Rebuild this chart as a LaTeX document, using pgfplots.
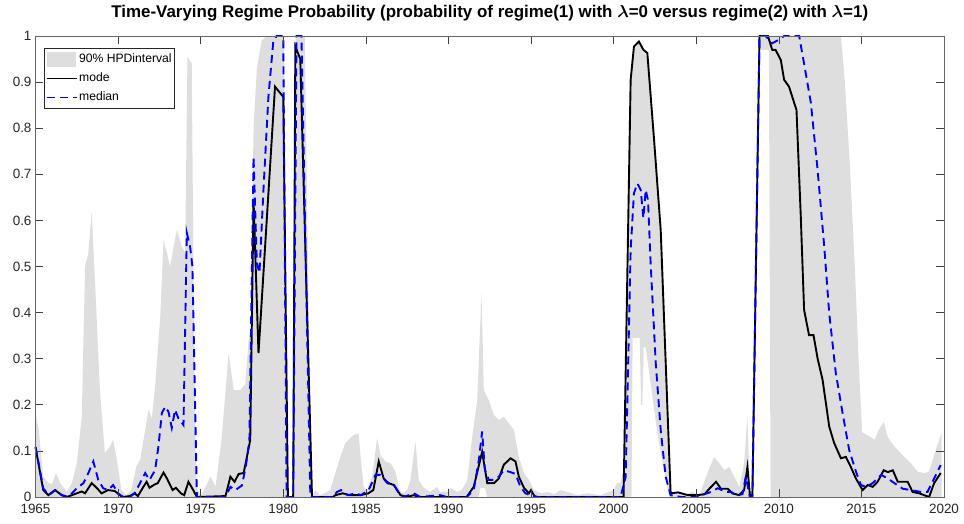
\documentclass[border=0pt]{standalone}
\usepackage{fontspec}
\setmainfont{Liberation Sans}
\usepackage{pgfplots}
\pgfplotsset{compat=1.18}
\definecolor{hpd}{RGB}{222,222,222}
\definecolor{axc}{RGB}{38,38,38}
\pgfplotsset{
  mylineleg/.style={legend image code/.code={\draw[##1, line width=1.9bp] (0bp,0bp) -- (30bp,0bp);}},
  myarealeg/.style={legend image code/.code={\fill[hpd] (0bp,-7.5bp) rectangle (29bp,7.5bp);}},
}
\begin{document}
\begin{tikzpicture}
\path[use as bounding box] (0bp,0bp) rectangle (964bp,524bp);
\begin{axis}[
  at={(35.5bp,27bp)}, anchor=south west,
  scale only axis, width=908.5bp, height=461bp,
  xmin=1965, xmax=2020, ymin=0, ymax=1,
  xtick={1965,1970,1975,1980,1985,1990,1995,2000,2005,2010,2015,2020},
  ytick={0,0.1,0.2,0.3,0.4,0.5,0.6,0.7,0.8,0.9,1},
  scaled ticks=false,
  axis on top=true,
  clip=false,
  axis line style={draw=black!60, line width=0.6bp},
  tick style={draw=black!75, line width=0.6bp},
  major tick length=8bp,
  tick align=inside,
  ticklabel style={font=\fontsize{13.5}{15}\selectfont, text=axc},
  /pgf/number format/assume math mode=true,
  xticklabel style={/pgf/number format/1000 sep={}, yshift=-4bp},
  yticklabel style={/pgf/number format/fixed, xshift=-0.5bp},
  title={Time-Varying Regime Probability (probability of regime(1) with $\lambda$=0 versus regime(2) with $\lambda$=1)},
  title style={at={(0.5,1)}, anchor=base, yshift=12.5bp, font=\bfseries\boldmath\fontsize{17}{19}\selectfont},
  legend cell align=left,
  legend style={at={(0,1)}, anchor=north west, xshift=8.5bp, yshift=-12.3bp,
    draw=axc, line width=0.5bp, fill=white, font=\fontsize{12.2}{14}\selectfont,
    inner sep=1.5bp, row sep=0bp,
    nodes={inner ysep=3.5bp, inner xsep=1.5bp, text height=9bp, text depth=3bp}},
]
% 90% HPD band: upper bound (forward), then lower bound (backward)
\addplot[fill=hpd, draw=none, area legend, myarealeg] table {
x y
1965.00 0.182
1965.20 0.145
1965.47 0.044
1965.80 0.030
1966.00 0.028
1966.24 0.052
1966.50 0.030
1966.90 0.011
1967.20 0.030
1967.50 0.073
1967.80 0.174
1968.00 0.500
1968.20 0.529
1968.40 0.619
1968.60 0.470
1968.90 0.232
1969.20 0.095
1969.50 0.109
1969.70 0.124
1969.96 0.073
1970.20 0.015
1970.50 0.004
1970.80 0.015
1971.10 0.066
1971.33 0.080
1971.64 0.145
1971.84 0.189
1972.04 0.170
1972.24 0.240
1972.55 0.390
1972.75 0.556
1972.96 0.529
1973.15 0.500
1973.35 0.540
1973.56 0.580
1973.86 0.543
1974.06 0.530
1974.20 0.955
1974.46 0.940
1974.57 0.456
1974.73 0.022
1975.00 0.002
1975.30 0.022
1975.60 0.044
1975.90 0.022
1976.28 0.131
1976.69 0.312
1977.00 0.232
1977.40 0.232
1977.70 0.245
1977.90 0.340
1978.02 0.360
1978.20 0.800
1978.40 0.930
1978.70 0.990
1979.00 1.000
1980.05 1.000
1980.22 0.000
1980.58 0.000
1980.75 1.000
1981.30 1.000
1981.50 0.500
1981.70 0.000
1981.94 0.015
1982.20 0.004
1982.50 0.008
1982.85 0.015
1983.15 0.052
1983.45 0.087
1983.76 0.117
1984.06 0.128
1984.26 0.134
1984.56 0.138
1984.70 0.080
1984.87 0.022
1985.07 0.015
1985.38 0.044
1985.68 0.128
1985.88 0.091
1986.18 0.077
1986.50 0.073
1986.79 0.055
1987.00 0.019
1987.20 0.008
1987.50 0.015
1987.70 0.037
1988.00 0.120
1988.20 0.037
1988.50 0.020
1988.90 0.011
1989.30 0.022
1989.50 0.011
1989.90 0.011
1990.20 0.019
1990.50 0.011
1990.80 0.015
1991.13 0.035
1991.44 0.131
1991.74 0.210
1992.00 0.442
1992.14 0.232
1992.44 0.210
1992.75 0.178
1993.05 0.167
1993.35 0.174
1993.66 0.160
1993.96 0.145
1994.26 0.087
1994.57 0.052
1994.87 0.037
1995.17 0.015
1995.60 0.008
1996.00 0.011
1996.40 0.006
1996.80 0.015
1997.20 0.011
1997.80 0.004
1998.40 0.008
1999.20 0.004
2000.00 0.015
2000.20 0.030
2000.40 0.030
2000.62 0.060
2001.03 0.900
2001.23 0.970
2001.53 0.985
2001.80 0.965
2002.04 0.955
2002.45 0.770
2002.85 0.575
2003.15 0.280
2003.45 0.010
2003.90 0.008
2004.30 0.004
2004.75 0.011
2005.20 0.004
2005.68 0.052
2006.08 0.087
2006.40 0.073
2006.70 0.058
2007.00 0.065
2007.30 0.044
2007.60 0.022
2007.90 0.073
2008.10 0.174
2008.25 0.015
2008.40 0.005
2008.83 1.000
2013.76 1.000
2014.00 0.900
2014.30 0.720
2014.60 0.500
2014.85 0.280
2015.05 0.140
2015.47 0.132
2015.80 0.124
2016.00 0.142
2016.35 0.163
2016.60 0.130
2017.00 0.109
2017.60 0.087
2018.00 0.073
2018.40 0.055
2018.80 0.052
2019.10 0.055
2019.50 0.102
2019.85 0.138
2019.85 0
2009.50 0
2009.40 0.97
2008.83 0.97
2008.40 0
2003.40 0
2003.30 0.010
2003.05 0.058
2002.65 0.138
2002.24 0.247
2001.94 0.325
2001.82 0.325
2001.74 0.200
2001.66 0.200
2001.58 0.345
2001.15 0.345
2001.08 0
1992.35 0
1992.20 0.02
1991.95 0.02
1991.80 0
1965.00 0
} -- cycle;
\addlegendentry{90\% HPDinterval}
\addplot[black, line width=1.9bp, mylineleg] table {
x y
1965.00 0.108
1965.47 0.015
1965.78 0.004
1966.18 0.015
1966.59 0.004
1966.90 0.000
1967.50 0.008
1967.80 0.012
1968.00 0.008
1968.40 0.030
1968.70 0.020
1969.00 0.008
1969.40 0.015
1969.80 0.013
1970.10 0.004
1970.30 0.000
1970.70 0.002
1971.00 0.008
1971.20 0.002
1971.53 0.022
1971.73 0.033
1971.90 0.020
1972.20 0.027
1972.40 0.030
1972.75 0.053
1972.96 0.040
1973.30 0.015
1973.50 0.020
1973.80 0.008
1974.00 0.004
1974.26 0.033
1974.55 0.015
1974.77 0.000
1976.50 0.002
1976.70 0.030
1976.80 0.044
1977.05 0.033
1977.30 0.050
1977.60 0.052
1977.80 0.087
1978.00 0.124
1978.20 0.644
1978.50 0.312
1979.50 0.890
1980.00 0.868
1980.28 0.000
1980.60 0.000
1980.73 0.977
1981.03 0.950
1981.74 0.000
1983.00 0.000
1983.15 0.004
1983.60 0.008
1984.00 0.004
1984.70 0.004
1985.15 0.008
1985.45 0.015
1985.78 0.077
1986.08 0.040
1986.38 0.030
1986.70 0.026
1986.90 0.015
1987.10 0.004
1987.50 0.000
1987.90 0.004
1988.20 0.000
1991.10 0.000
1991.53 0.022
1992.04 0.098
1992.35 0.030
1992.76 0.030
1993.05 0.040
1993.35 0.070
1993.76 0.084
1994.06 0.077
1994.26 0.044
1994.57 0.020
1994.87 0.008
1995.00 0.015
1995.20 0.002
1995.40 0.000
2000.60 0.000
2001.03 0.905
2001.23 0.977
2001.53 0.988
2001.80 0.970
2002.04 0.963
2002.45 0.774
2002.85 0.579
2003.45 0.008
2003.90 0.010
2004.50 0.004
2005.10 0.004
2005.50 0.006
2005.90 0.022
2006.20 0.033
2006.50 0.018
2006.90 0.018
2007.20 0.008
2007.60 0.004
2007.90 0.015
2008.10 0.065
2008.25 0.004
2008.40 0.004
2008.83 1.000
2009.34 1.000
2009.60 0.970
2009.80 0.970
2010.12 0.948
2010.32 0.905
2010.62 0.890
2010.93 0.855
2011.07 0.840
2011.33 0.608
2011.53 0.406
2011.83 0.351
2012.10 0.351
2012.35 0.300
2012.65 0.254
2013.05 0.153
2013.35 0.117
2013.76 0.084
2014.06 0.087
2014.36 0.065
2014.67 0.040
2015.07 0.015
2015.38 0.026
2015.68 0.022
2015.98 0.033
2016.35 0.058
2016.60 0.054
2016.90 0.058
2017.20 0.033
2017.80 0.033
2018.10 0.011
2018.50 0.008
2019.10 0.000
2019.40 0.030
2019.80 0.052
};
\addlegendentry{mode}
\addplot[blue, line width=1.9bp, dash pattern=on 8bp off 5bp, mylineleg] table {
x y
1965.00 0.109
1965.47 0.019
1965.80 0.004
1966.20 0.015
1966.60 0.004
1967.00 0.000
1967.50 0.019
1967.90 0.030
1968.20 0.052
1968.50 0.077
1968.80 0.037
1969.10 0.019
1969.40 0.015
1969.70 0.026
1970.00 0.008
1970.30 0.000
1970.70 0.000
1971.00 0.008
1971.33 0.030
1971.64 0.052
1971.90 0.037
1972.24 0.058
1972.44 0.109
1972.65 0.182
1972.85 0.196
1973.05 0.185
1973.25 0.150
1973.45 0.189
1973.66 0.170
1973.96 0.156
1974.16 0.573
1974.36 0.543
1974.50 0.500
1974.77 0.000
1976.50 0.000
1976.80 0.022
1977.10 0.015
1977.50 0.025
1977.75 0.070
1977.95 0.124
1978.20 0.738
1978.40 0.507
1978.56 0.486
1978.80 0.666
1979.10 0.868
1979.40 0.990
1979.60 1.000
1980.00 1.000
1980.20 0.000
1980.60 0.000
1980.80 1.000
1981.10 1.000
1981.64 0.000
1983.00 0.000
1983.25 0.011
1983.50 0.015
1983.90 0.004
1984.40 0.008
1984.70 0.004
1985.17 0.015
1985.58 0.048
1985.88 0.048
1986.30 0.030
1986.70 0.026
1987.00 0.008
1987.30 0.000
1987.90 0.008
1988.30 0.000
1989.50 0.004
1989.90 0.000
1991.10 0.000
1991.53 0.015
1991.84 0.080
1992.04 0.142
1992.20 0.060
1992.44 0.037
1992.76 0.037
1993.05 0.044
1993.35 0.058
1993.76 0.054
1994.06 0.050
1994.36 0.022
1994.66 0.008
1995.10 0.002
1995.40 0.000
2000.42 0.000
2000.73 0.044
2001.03 0.536
2001.23 0.659
2001.44 0.680
2001.64 0.666
2001.80 0.605
2001.94 0.666
2002.08 0.644
2002.24 0.507
2002.55 0.290
2002.85 0.145
2003.15 0.044
2003.45 0.004
2004.10 0.000
2004.85 0.000
2005.30 0.004
2005.90 0.011
2006.30 0.019
2006.80 0.011
2007.10 0.011
2007.40 0.004
2007.80 0.006
2008.00 0.044
2008.25 0.000
2008.40 0.000
2008.83 1.000
2009.20 1.000
2009.60 0.984
2009.90 0.990
2010.32 1.000
2010.70 1.000
2011.23 1.000
2011.53 0.940
2011.94 0.855
2012.35 0.709
2012.75 0.543
2013.05 0.399
2013.45 0.269
2013.86 0.182
2014.26 0.102
2014.67 0.055
2014.97 0.026
2015.28 0.022
2015.68 0.030
2016.20 0.048
2016.60 0.040
2017.00 0.030
2017.50 0.018
2018.00 0.015
2018.60 0.011
2019.00 0.011
2019.30 0.033
2019.80 0.069
};
\addlegendentry{median}
\end{axis}
\end{tikzpicture}
\end{document}
